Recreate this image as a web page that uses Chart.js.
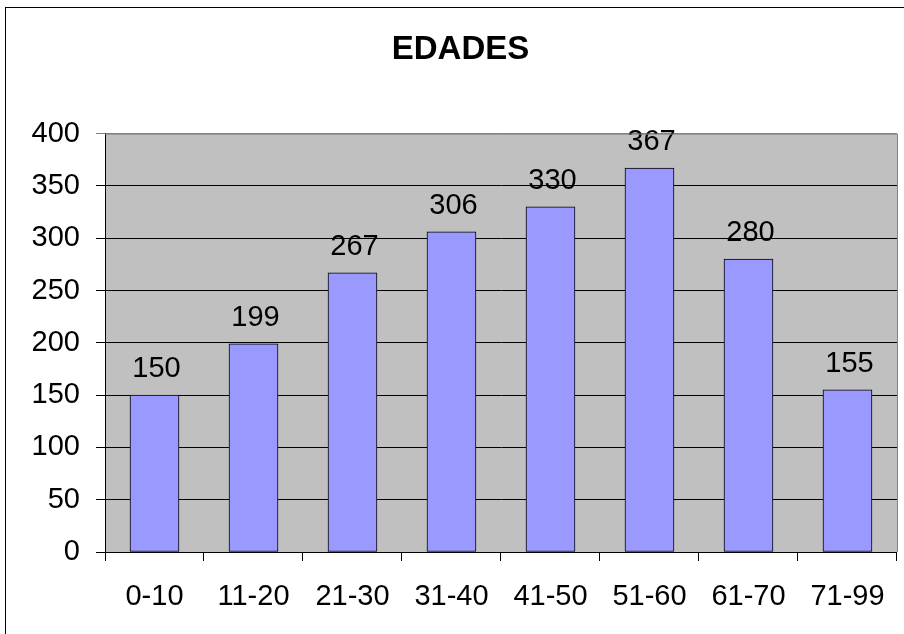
<!DOCTYPE html>
<html>
<head>
<meta charset="utf-8">
<script src="https://cdn.jsdelivr.net/npm/chart.js@4"></script>
<style>
  html, body { margin: 0; padding: 0; background: #fff; overflow: hidden; }
  #wrap { position: relative; width: 904px; height: 634px; overflow: hidden; }
  #frame { position: absolute; left: 5px; top: 7px; width: 1200px; height: 1200px;
           border-top: 1px solid #000; border-left: 1px solid #000; }
  canvas { position: absolute; left: 0; top: 0; }
</style>
</head>
<body>
<div id="wrap">
  <div id="frame"></div>
  <canvas id="chart" width="904" height="634"></canvas>
</div>
<script>
const titleText = "EDADES";
const categories = ["0-10", "11-20", "21-30", "31-40", "41-50", "51-60", "61-70", "71-99"];
const values = [150, 199, 267, 306, 330, 367, 280, 155];
const yTicks = [0, 50, 100, 150, 200, 250, 300, 350, 400];

const fontFamily = "'Liberation Sans', Arial, sans-serif";

// fondo gris del area de trazado y borde superior/derecho
const plotBackground = {
  id: "plotBackground",
  beforeDraw(chart) {
    const a = chart.chartArea;
    const ctx = chart.ctx;
    ctx.save();
    ctx.fillStyle = "#C0C0C0";
    ctx.fillRect(a.left, a.top, a.right - a.left, a.bottom - a.top);
    ctx.restore();
  },
  afterDraw(chart) {
    const a = chart.chartArea;
    const ctx = chart.ctx;
    ctx.save();
    ctx.strokeStyle = "#808080";
    ctx.lineWidth = 1;
    ctx.beginPath();
    ctx.moveTo(a.left, a.top + 0.5);
    ctx.lineTo(a.right + 0.5, a.top + 0.5);
    ctx.lineTo(a.right + 0.5, a.bottom);
    ctx.stroke();
    ctx.restore();
  }
};

// etiquetas de valor encima de cada barra
const valueLabels = {
  id: "valueLabels",
  afterDatasetsDraw(chart) {
    const ctx = chart.ctx;
    const meta = chart.getDatasetMeta(0);
    ctx.save();
    ctx.font = "29px " + fontFamily;
    ctx.fillStyle = "#000";
    ctx.textAlign = "center";
    ctx.textBaseline = "alphabetic";
    meta.data.forEach((bar, i) => {
      ctx.fillText(String(values[i]), bar.x + 2, bar.y - 18);
    });
    ctx.restore();
  }
};

new Chart(document.getElementById("chart"), {
  type: "bar",
  data: {
    labels: categories,
    datasets: [{
      data: values,
      backgroundColor: "#9999FF",
      borderColor: "#000",
      borderWidth: 1,
      borderSkipped: false,
      barThickness: 49
    }]
  },
  options: {
    responsive: false,
    animation: false,
    devicePixelRatio: 1,
    layout: { padding: { left: 24, right: 7, top: 0, bottom: 0 } },
    plugins: {
      legend: { display: false },
      tooltip: { enabled: false },
      title: {
        display: true,
        text: titleText,
        color: "#000",
        font: { family: fontFamily, size: 33, weight: "bold" },
        padding: { top: 30, bottom: 64 }
      }
    },
    scales: {
      x: {
        grid: {
          offset: true,
          drawOnChartArea: false,
          drawTicks: true,
          tickLength: 9,
          color: "#000"
        },
        border: { color: "#000", width: 1 },
        ticks: {
          color: "#000",
          font: { family: fontFamily, size: 29 },
          padding: 19,
          maxRotation: 0,
          autoSkip: false
        },
        afterFit(scale) { scale.height = 82; }
      },
      y: {
        min: 0,
        max: 400,
        afterBuildTicks(scale) { scale.ticks = yTicks.map(v => ({ value: v })); },
        grid: {
          tickLength: 9,
          color: ctx => (ctx.tick && ctx.tick.value === 400 ? "#808080" : "#000")
        },
        border: { color: "#000", width: 1 },
        ticks: {
          color: "#000",
          font: { family: fontFamily, size: 29 },
          padding: 16
        },
        afterFit(scale) { scale.width = 81; }
      }
    }
  },
  plugins: [plotBackground, valueLabels]
});
</script>
</body>
</html>
